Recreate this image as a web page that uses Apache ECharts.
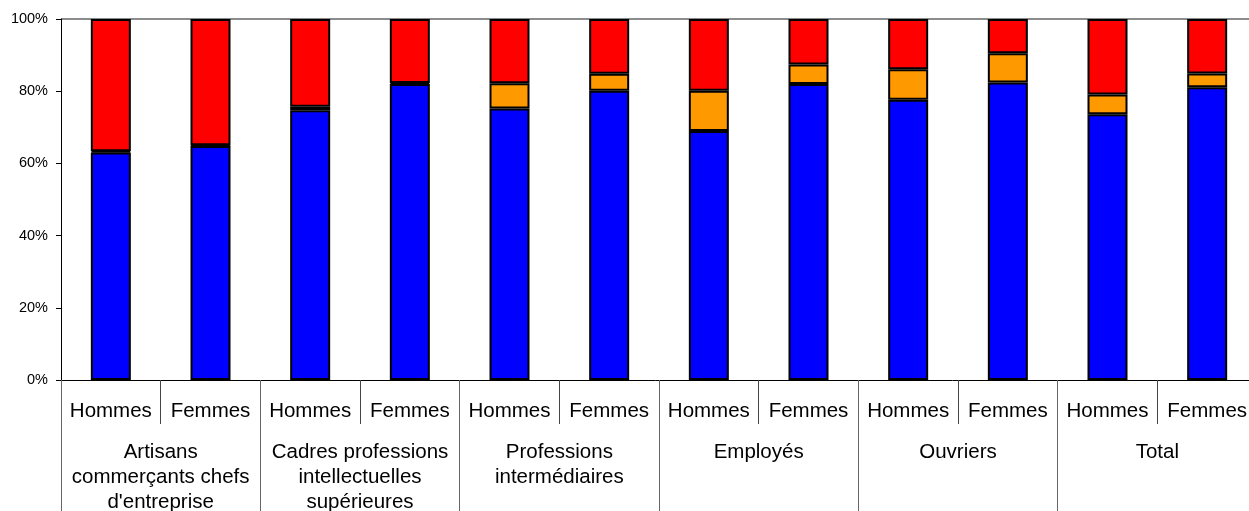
<!DOCTYPE html>
<html>
<head>
<meta charset="utf-8">
<script src="https://cdn.jsdelivr.net/npm/echarts@6/dist/echarts.min.js"></script>
<style>
html,body{margin:0;padding:0;background:#fff;}
#chart{width:1249px;height:511px;}
</style>
</head>
<body>
<div id="chart"></div>
<script>
// Sub-categories (12 bars)
var subCategories = ['Hommes','Femmes','Hommes','Femmes','Hommes','Femmes','Hommes','Femmes','Hommes','Femmes','Hommes','Femmes'];
// Groups (6)
var groups = ["Artisans\ncommerçants chefs\nd'entreprise", "Cadres professions\nintellectuelles\nsupérieures", "Professions\nintermédiaires", "Employés", "Ouvriers", "Total"];
// Series values (percent)
var blueValues   = [63.0, 64.8, 74.7, 82.0, 75.2, 80.1, 69.0, 82.0, 77.6, 82.4, 73.6, 81.1];
var orangeValues = [0.4, 0.2, 1.0, 0.3, 7.0, 4.7, 11.1, 5.4, 8.5, 8.1, 5.5, 3.8];
var redValues    = [36.6, 35.0, 24.3, 17.7, 17.8, 15.2, 19.9, 12.6, 13.9, 9.5, 20.9, 15.1];
// Y ticks
var yMin = 0, yMax = 100, yStep = 20;

var FONT = '"Liberation Sans", Arial, sans-serif';
var chart = echarts.init(document.getElementById('chart'), null, {renderer: 'canvas'});

function barSeries(name, data, color) {
  return {
    name: name, type: 'bar', stack: 'total', data: data,
    xAxisIndex: 0, barWidth: 40,
    itemStyle: {color: color, borderColor: '#000', borderWidth: 2},
    emphasis: {disabled: true}
  };
}

chart.setOption({
  animation: false,
  backgroundColor: '#fff',
  grid: {left: 61, top: 19, bottom: 131, right: -8, containLabel: false, outerBoundsMode: 'none'},
  xAxis: [
    {
      type: 'category', data: subCategories, position: 'bottom',
      axisLine: {show: true, lineStyle: {color: '#000', width: 1}},
      axisTick: {show: true, length: 44, interval: 0, lineStyle: {color: '#444', width: 1}},
      axisLabel: {interval: 0, margin: 18.5, fontFamily: FONT, fontSize: 20.5, lineHeight: 25, color: '#000'},
      splitLine: {show: false}
    },
    {
      type: 'category', data: groups, position: 'bottom', gridIndex: 0,
      axisLine: {show: false},
      axisTick: {show: true, length: 131, interval: 0, lineStyle: {color: '#666', width: 1}},
      axisLabel: {interval: 0, margin: 60, fontFamily: FONT, fontSize: 20.5, lineHeight: 25, color: '#000', align: 'center'},
      splitLine: {show: false}
    }
  ],
  yAxis: {
    type: 'value', min: yMin, max: yMax, interval: yStep,
    axisLine: {show: true, lineStyle: {color: '#000', width: 1}},
    axisTick: {show: true, length: 5, lineStyle: {color: '#000'}},
    axisLabel: {formatter: '{value}%', margin: 13, fontFamily: FONT, fontSize: 14.5, color: '#000'},
    splitLine: {show: true, lineStyle: {color: ['rgba(0,0,0,0)','rgba(0,0,0,0)','rgba(0,0,0,0)','rgba(0,0,0,0)','rgba(0,0,0,0)','#8c8c8c'], width: 2}}
  },
  series: [
    barSeries('Bleu', blueValues, '#0000FF'),
    barSeries('Orange', orangeValues, '#FF9900'),
    barSeries('Rouge', redValues, '#FF0000')
  ]
});
</script>
</body>
</html>
